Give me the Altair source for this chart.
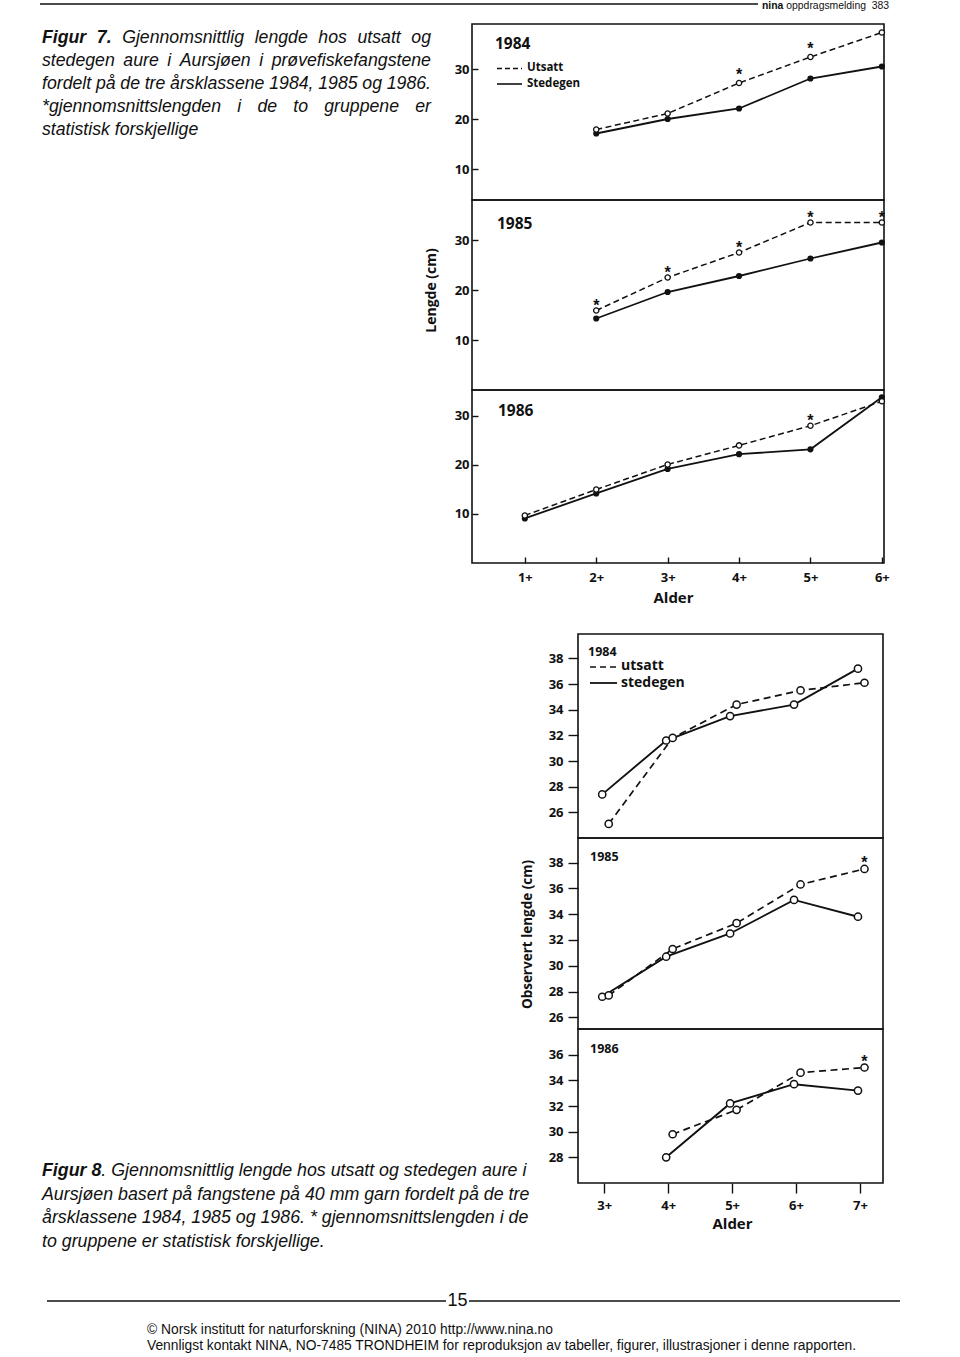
import altair as alt
import pandas as pd

# ---------------- Figur 7: gjennomsnittlig lengde (cm) ----------------
f7_age_ticks = [1, 2, 3, 4, 5, 6]
f7_yticks = [10, 20, 30]

f7_1984_age = [2, 3, 4, 5, 6]
f7_1984_utsatt = [17.9, 21.1, 27.2, 32.4, 37.3]
f7_1984_stedegen = [17.1, 20.0, 22.1, 28.1, 30.5]
f7_1984_sig = [0, 0, 1, 1, 0]

f7_1985_age = [2, 3, 4, 5, 6]
f7_1985_utsatt = [15.9, 22.5, 27.5, 33.5, 33.5]
f7_1985_stedegen = [14.3, 19.6, 22.8, 26.3, 29.5]
f7_1985_sig = [1, 1, 1, 1, 1]

f7_1986_age = [1, 2, 3, 4, 5, 6]
f7_1986_utsatt = [9.7, 15.0, 20.1, 24.0, 28.0, 33.0]
f7_1986_stedegen = [9.1, 14.2, 19.2, 22.2, 23.2, 33.8]
f7_1986_sig = [0, 0, 0, 0, 1, 0]

# ---------------- Figur 8: observert lengde (cm) ----------------
f8_age_ticks = [3, 4, 5, 6, 7]
f8_yticks = [26, 28, 30, 32, 34, 36, 38]
f8_yticks_1986 = [28, 30, 32, 34, 36]

f8_1984_age = [3, 4, 5, 6, 7]
f8_1984_utsatt = [25.1, 31.8, 34.4, 35.5, 36.1]
f8_1984_stedegen = [27.4, 31.6, 33.5, 34.4, 37.2]
f8_1984_sig = [0, 0, 0, 0, 0]

f8_1985_age = [3, 4, 5, 6, 7]
f8_1985_utsatt = [27.7, 31.3, 33.3, 36.3, 37.5]
f8_1985_stedegen = [27.6, 30.7, 32.5, 35.1, 33.8]
f8_1985_sig = [0, 0, 0, 0, 1]

f8_1986_age = [4, 5, 6, 7]
f8_1986_utsatt = [29.8, 31.7, 34.6, 35.0]
f8_1986_stedegen = [28.0, 32.2, 33.7, 33.2]
f8_1986_sig = [0, 0, 0, 1]

# ---------------- page geometry & styles ----------------
W, H = 960, 1357
CF = "Open Sans"          # chart lettering
TF = "Liberation Sans"    # body text (Arial metrics)
NARROW = "Liberation Sans Narrow, Arial Narrow, Liberation Sans"
INK = "#111111"
ONE = pd.DataFrame({"k": [0]})

STY = {
    7: dict(sw=1.8, dw=1.5, dash=[6, 3.5], dx_u=0, dx_s=0),
    8: dict(sw=1.9, dw=1.7, dash=[7, 4.5], dx_u=4.5, dx_s=-2),
}


def panel(ages, uts, sted, sig, xdom, xrng, ydom, yrng, fig, yticks,
          xticks=None, ytitle=None, ytitle_xy=None, xtitle_xy=None, star_dy=0):
    df = pd.DataFrame({"age": ages, "utsatt": uts, "stedegen": sted, "sig": sig})
    frame = pd.DataFrame({"x0": [xdom[0]], "x1": [xdom[1]],
                          "y0": [ydom[0]], "y1": [ydom[1]]})

    def xs():
        return alt.Scale(domain=list(xdom), range=list(xrng), nice=False, zero=False)

    def ys():
        return alt.Scale(domain=list(ydom), range=list(yrng), nice=False, zero=False)

    lab = dict(labelFont=CF, labelFontWeight="bold", labelColor=INK,
               labelFontSize=13, grid=False, tickColor=INK, tickWidth=1.4)
    if ytitle:
        ytk = dict(title=ytitle, titleX=ytitle_xy[0] - xrng[0], titleY=ytitle_xy[1],
                   titleAngle=270, titleAlign="center", titleBaseline="middle",
                   titleFont=CF, titleFontWeight="bold",
                   titleFontSize=14 if fig == 7 else 13.5, titleColor=INK)
    else:
        ytk = dict(title=None)
    x_lab = None
    x_tick = None
    y_tick = None
    if fig == 7:
        y_lab = alt.Axis(orient="left", offset=-xrng[0], values=yticks, ticks=False,
                         domain=False, labelPadding=3, **lab, **ytk)
        y_tick = alt.Axis(orient="right", offset=xrng[0] - W, values=yticks,
                          labels=False, domain=False, tickSize=6, tickWidth=1.4,
                          tickColor=INK, grid=False, title=None)
        if xticks:
            x_lab = alt.Axis(orient="bottom", offset=yrng[0] - H, values=xticks,
                             ticks=False, domain=False, labelPadding=8, format="d",
                             labelExpr="datum.label + '+'", labelFlush=False, **lab,
                             title="Alder", titleX=xtitle_xy[0],
                             titleY=xtitle_xy[1] - yrng[0], titleAlign="center",
                             titleBaseline="middle", titleFont=CF,
                             titleFontWeight="bold", titleFontSize=15, titleColor=INK)
            x_tick = alt.Axis(orient="top", offset=-yrng[0], values=xticks,
                              labels=False, domain=False, tickSize=6, tickWidth=1.4,
                              tickColor=INK, grid=False, title=None)
    else:
        y_lab = alt.Axis(orient="left", offset=-xrng[0], values=yticks, ticks=True,
                         tickSize=10, domain=False, labelPadding=5, **lab, **ytk)
        if xticks:
            x_lab = alt.Axis(orient="bottom", offset=yrng[0] - H, values=xticks,
                             tickSize=10, domain=False, labelPadding=6, format="d",
                             labelExpr="datum.label + '+'", labelFlush=False, **lab,
                             title="Alder", titleX=xtitle_xy[0],
                             titleY=xtitle_xy[1] - yrng[0], titleAlign="center",
                             titleBaseline="middle", titleFont=CF,
                             titleFontWeight="bold", titleFontSize=15, titleColor=INK)

    st = STY[fig]
    out = [
        alt.Chart(frame).mark_rect(fill="transparent", stroke=INK, strokeWidth=1.6).encode(
            x=alt.X("x0:Q", scale=xs(), axis=x_lab), x2="x1:Q",
            y=alt.Y("y0:Q", scale=ys(), axis=y_lab), y2="y1:Q"),
        alt.Chart(df).mark_line(color=INK, strokeWidth=st["dw"], strokeDash=st["dash"],
                                xOffset=st["dx_u"]).encode(
            x=alt.X("age:Q", scale=xs(), axis=None),
            y=alt.Y("utsatt:Q", scale=ys(), axis=None)),
        alt.Chart(df).mark_line(color=INK, strokeWidth=st["sw"], xOffset=st["dx_s"]).encode(
            x=alt.X("age:Q", scale=xs(), axis=x_tick),
            y=alt.Y("stedegen:Q", scale=ys(), axis=y_tick)),
    ]
    if fig == 7:
        out.append(alt.Chart(df).mark_circle(color=INK, size=38, opacity=1).encode(
            x=alt.X("age:Q", scale=xs(), axis=None),
            y=alt.Y("stedegen:Q", scale=ys(), axis=None)))
        out.append(alt.Chart(df).mark_point(shape="circle", filled=True, fill="white",
                                            stroke=INK, strokeWidth=1.3, size=28,
                                            opacity=1).encode(
            x=alt.X("age:Q", scale=xs(), axis=None),
            y=alt.Y("utsatt:Q", scale=ys(), axis=None)))
    else:
        for col, dx in (("stedegen", st["dx_s"]), ("utsatt", st["dx_u"])):
            out.append(alt.Chart(df).mark_point(shape="circle", filled=True, fill="white",
                                                stroke=INK, strokeWidth=1.5, size=52,
                                                opacity=1, xOffset=dx).encode(
                x=alt.X("age:Q", scale=xs(), axis=None),
                y=alt.Y(col + ":Q", scale=ys(), axis=None)))
    out.append(alt.Chart(df).transform_filter("datum.sig == 1").mark_text(
        text="*", font=TF, fontWeight="bold", fontSize=16, color=INK, align="center",
        baseline="alphabetic", dy=star_dy, dx=st["dx_u"]).encode(
        x=alt.X("age:Q", scale=xs(), axis=None),
        y=alt.Y("utsatt:Q", scale=ys(), axis=None)))
    return out


def note(text, x, y, size, weight="normal", style="normal", font=CF,
         align="left", baseline="middle", angle=0):
    return alt.Chart(ONE).mark_text(
        text=text, font=font, fontSize=size, fontWeight=weight, fontStyle=style,
        align=align, baseline=baseline, angle=angle, color=INK).encode(
        x=alt.value(x), y=alt.value(y))


def rule(x1, x2, y, width=1.5, dash=None):
    kw = dict(color=INK, strokeWidth=width)
    if dash:
        kw["strokeDash"] = dash
    return alt.Chart(ONE).mark_rule(**kw).encode(
        x=alt.value(x1), x2=alt.value(x2), y=alt.value(y))


# ---------------- caption typesetting (Arial metrics) ----------------
AW = {" ": 278, "*": 389, ",": 278, ".": 278, "(": 333, ")": 333, "-": 333,
      ":": 278, "/": 278, "©": 737, "å": 556, "ø": 611, "æ": 889}
for d in "0123456789":
    AW[d] = 556
AW.update(dict(A=667, B=667, C=722, D=722, E=667, F=611, G=778, H=722, I=278, J=500,
               K=667, L=556, M=833, N=722, O=778, P=667, Q=778, R=722, S=667, T=611,
               U=722, V=667, W=944, X=667, Y=667, Z=611))
AW.update(dict(a=556, b=556, c=500, d=556, e=556, f=278, g=556, h=556, i=222, j=222,
               k=500, l=222, m=833, n=556, o=556, p=556, q=556, r=333, s=500, t=278,
               u=556, v=500, w=722, x=500, y=500, z=500))
AWB = dict(AW)
AWB.update(dict(F=611, i=278, g=611, u=611, r=389, n=611, a=556))


def tw(s, size, bold=False):
    t = AWB if bold else AW
    return sum(t.get(c, 556) for c in s) * size / 1000.0


CAP = 17.7
cap_rows = []


def justify(words, x0, x1, y, size=CAP):
    widths = [tw(w, size, b) for w, b in words]
    gap = (x1 - x0 - sum(widths)) / (len(words) - 1)
    x = x0
    for (w, b), wd in zip(words, widths):
        cap_rows.append(dict(w=w, x=x, y=y, b=b))
        x += wd + gap


def plain(words, x0, y, size=CAP):
    x = x0
    for w, b in words:
        cap_rows.append(dict(w=w, x=x, y=y, b=b))
        x += tw(w, size, b)


def ital(line):
    return [(w, 0) for w in line.split(" ")]


justify([("Figur", 1), ("7.", 1)] + ital("Gjennomsnittlig lengde hos utsatt og"), 42, 431, 38)
justify(ital("stedegen aure i Aursjøen i prøvefiskefangstene"), 42, 431, 61)
justify(ital("fordelt på de tre årsklassene 1984, 1985 og 1986."), 42, 431, 84)
justify(ital("*gjennomsnittslengden i de to gruppene er"), 42, 431, 107)
plain([("statistisk forskjellige", 0)], 42, 130)

CAP8 = 17.8
plain([("Figur 8", 1), (". Gjennomsnittlig lengde hos utsatt og stedegen aure i", 0)], 42, 1171, CAP8)
plain([("Aursjøen basert på fangstene på 40 mm garn fordelt på de tre", 0)], 42, 1195, CAP8)
plain([("årsklassene 1984, 1985 og 1986. * gjennomsnittslengden i de", 0)], 42, 1218, CAP8)
plain([("to gruppene er statistisk forskjellige.", 0)], 42, 1242, CAP8)

cap_df = pd.DataFrame(cap_rows)
cap_df["fs"] = [CAP if y < 200 else CAP8 for y in cap_df["y"]]


def caption_layer(bold):
    return alt.Chart(cap_df).transform_filter(f"datum.b == {bold}").mark_text(
        font=TF, fontStyle="italic", fontWeight="bold" if bold else "normal",
        align="left", baseline="middle", color=INK).encode(
        x=alt.X("x:Q", scale=None, axis=None),
        y=alt.Y("y:Q", scale=None, axis=None),
        size=alt.Size("fs:Q", scale=None, legend=None),
        text="w:N")


# ---------------- assemble ----------------
F7X, F7XD = (472, 884), (0.26, 6.03)
F8X, F8XD = (578, 883), (2.59, 7.36)

layers = []
layers += panel(f7_1984_age, f7_1984_utsatt, f7_1984_stedegen, f7_1984_sig, F7XD, F7X,
                (3.8, 39.0), (200, 24), 7, f7_yticks, star_dy=-3)
layers += panel(f7_1985_age, f7_1985_utsatt, f7_1985_stedegen, f7_1985_sig, F7XD, F7X,
                (0.0, 38.0), (390, 200), 7, f7_yticks,
                ytitle="Lengde (cm)", ytitle_xy=(431, 290))
layers += panel(f7_1986_age, f7_1986_utsatt, f7_1986_stedegen, f7_1986_sig, F7XD, F7X,
                (0.0, 35.3), (563, 390), 7, f7_yticks, xticks=f7_age_ticks,
                xtitle_xy=(673, 597))
layers += panel(f8_1984_age, f8_1984_utsatt, f8_1984_stedegen, f8_1984_sig, F8XD, F8X,
                (24.0, 39.9), (838, 634), 8, f8_yticks, star_dy=-1)
layers += panel(f8_1985_age, f8_1985_utsatt, f8_1985_stedegen, f8_1985_sig, F8XD, F8X,
                (25.1, 39.9), (1029, 838), 8, f8_yticks, star_dy=-1,
                ytitle="Observert lengde (cm)", ytitle_xy=(527, 934))
layers += panel(f8_1986_age, f8_1986_utsatt, f8_1986_stedegen, f8_1986_sig, F8XD, F8X,
                (26.0, 38.0), (1183, 1029), 8, f8_yticks_1986, xticks=f8_age_ticks,
                xtitle_xy=(732, 1223), star_dy=-1)

# legends and year labels
layers += [
    note("1984", 495, 44, 15.5, "bold"),
    rule(497, 522, 68.5, 1.5, [5, 3]),
    rule(497, 522, 84, 1.6),
    note("Utsatt", 527, 68, 11.5, "bold"),
    note("Stedegen", 527, 84, 11.5, "bold"),
    note("1985", 497, 224, 15.5, "bold"),
    note("1986", 498, 411, 15.5, "bold"),
    note("1984", 588, 652, 12.5, "bold"),
    rule(590, 617, 667, 1.6, [6, 4]),
    rule(590, 617, 683, 1.8),
    note("utsatt", 621, 666, 14, "bold"),
    note("stedegen", 621, 683, 14, "bold"),
    note("1985", 590, 857, 12.5, "bold"),
    note("1986", 590, 1049, 12.5, "bold"),
]

# captions
layers += [caption_layer(1), caption_layer(0)]

# running header and footer
HDR = 10.4
layers += [
    rule(40, 758, 4, 1.6),
    note("nina", 762, 1, HDR, "bold", font=TF, baseline="top"),
    note("oppdragsmelding\u00a0\u00a0383", 762 + tw("nina ", HDR, True), 1, HDR,
         font=TF, baseline="top"),
    rule(47, 446, 1301, 1.4),
    rule(469, 900, 1301, 1.4),
    note("15", 457.5, 1301, 18, font=TF, align="center"),
    note("© Norsk institutt for naturforskning (NINA) 2010 http://www.nina.no", 147, 1330, 13.8,
         font=NARROW),
    note("Vennligst kontakt NINA, NO-7485 TRONDHEIM for reproduksjon av tabeller, figurer, "
         "illustrasjoner i denne rapporten.", 147, 1346, 13.8, font=NARROW),
]

chart = alt.layer(*layers).resolve_scale(
    x="independent", y="independent"
).resolve_axis(
    x="independent", y="independent"
).properties(
    width=W, height=H, autosize=alt.AutoSizeParams(type="none"), padding=0,
    background="white"
).configure_view(stroke="transparent")

chart.save("out.html", embed_options={"renderer": "svg", "actions": False})
